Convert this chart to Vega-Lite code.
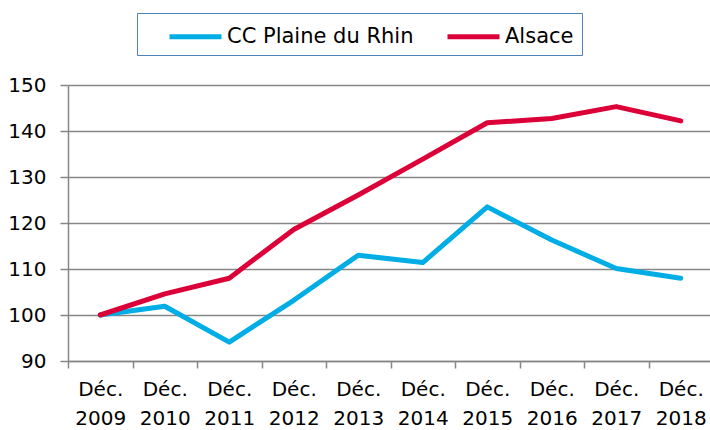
{
  "$schema": "https://vega.github.io/schema/vega-lite/v6.json",
  "width": 645,
  "height": 276,
  "autosize": {"type": "none"},
  "padding": {"left": 68, "top": 85, "right": 0, "bottom": 69},
  "background": "white",
  "config": {"view": {"stroke": null}, "font": "DejaVu Sans"},
  "data": {
    "values": [
      {"periode": "Déc. 2009", "serie": "CC Plaine du Rhin", "valeur": 100},
      {"periode": "Déc. 2010", "serie": "CC Plaine du Rhin", "valeur": 101.9},
      {"periode": "Déc. 2011", "serie": "CC Plaine du Rhin", "valeur": 94.1},
      {"periode": "Déc. 2012", "serie": "CC Plaine du Rhin", "valeur": 103.2},
      {"periode": "Déc. 2013", "serie": "CC Plaine du Rhin", "valeur": 113.0},
      {"periode": "Déc. 2014", "serie": "CC Plaine du Rhin", "valeur": 111.4},
      {"periode": "Déc. 2015", "serie": "CC Plaine du Rhin", "valeur": 123.5},
      {"periode": "Déc. 2016", "serie": "CC Plaine du Rhin", "valeur": 116.3},
      {"periode": "Déc. 2017", "serie": "CC Plaine du Rhin", "valeur": 110.1},
      {"periode": "Déc. 2018", "serie": "CC Plaine du Rhin", "valeur": 108.0},
      {"periode": "Déc. 2009", "serie": "Alsace", "valeur": 100},
      {"periode": "Déc. 2010", "serie": "Alsace", "valeur": 104.6},
      {"periode": "Déc. 2011", "serie": "Alsace", "valeur": 108.0},
      {"periode": "Déc. 2012", "serie": "Alsace", "valeur": 118.6},
      {"periode": "Déc. 2013", "serie": "Alsace", "valeur": 126.1},
      {"periode": "Déc. 2014", "serie": "Alsace", "valeur": 133.9},
      {"periode": "Déc. 2015", "serie": "Alsace", "valeur": 141.8},
      {"periode": "Déc. 2016", "serie": "Alsace", "valeur": 142.7},
      {"periode": "Déc. 2017", "serie": "Alsace", "valeur": 145.3},
      {"periode": "Déc. 2018", "serie": "Alsace", "valeur": 142.2}
    ]
  },
  "mark": {"type": "line", "strokeWidth": 5, "strokeCap": "round", "strokeJoin": "round"},
  "encoding": {
    "x": {
      "field": "periode",
      "type": "ordinal",
      "sort": null,
      "scale": {"type": "band", "paddingInner": 0, "paddingOuter": 0},
      "axis": {
        "title": null,
        "tickBand": "extent",
        "grid": false,
        "domainColor": "#868686",
        "domainWidth": 1.5,
        "tickColor": "#868686",
        "tickWidth": 1.5,
        "tickSize": 7,
        "labelAngle": 0,
        "labelExpr": "split(datum.label, ' ')",
        "labelFont": "DejaVu Sans",
        "labelFontSize": 20,
        "labelColor": "black",
        "labelLineHeight": 29,
        "labelPadding": 11
      }
    },
    "y": {
      "field": "valeur",
      "type": "quantitative",
      "scale": {"domain": [90, 150], "nice": false, "zero": false},
      "axis": {
        "title": null,
        "values": [90, 100, 110, 120, 130, 140, 150],
        "grid": true,
        "gridColor": "#868686",
        "gridWidth": 1.5,
        "domainColor": "#868686",
        "domainWidth": 1.5,
        "tickColor": "#868686",
        "tickWidth": 1.5,
        "tickSize": 8,
        "labelFont": "DejaVu Sans",
        "labelFontSize": 20,
        "labelColor": "black",
        "labelPadding": 14
      }
    },
    "color": {
      "field": "serie",
      "type": "nominal",
      "sort": ["CC Plaine du Rhin", "Alsace"],
      "scale": {"domain": ["CC Plaine du Rhin", "Alsace"], "range": ["#00ADE4", "#DC0038"]},
      "legend": {
        "orient": "none",
        "legendX": 69,
        "legendY": -72,
        "direction": "horizontal",
        "title": null,
        "symbolType": "M-2,0H2",
        "symbolSize": 676,
        "symbolStrokeWidth": 5,
        "symbolOffset": 35,
        "labelFont": "DejaVu Sans",
        "labelFontSize": 21,
        "labelColor": "black",
        "labelLimit": 400,
        "labelOffset": 16,
        "columnPadding": 9,
        "padding": 8,
        "strokeColor": "#4F81BD"
      }
    }
  }
}
